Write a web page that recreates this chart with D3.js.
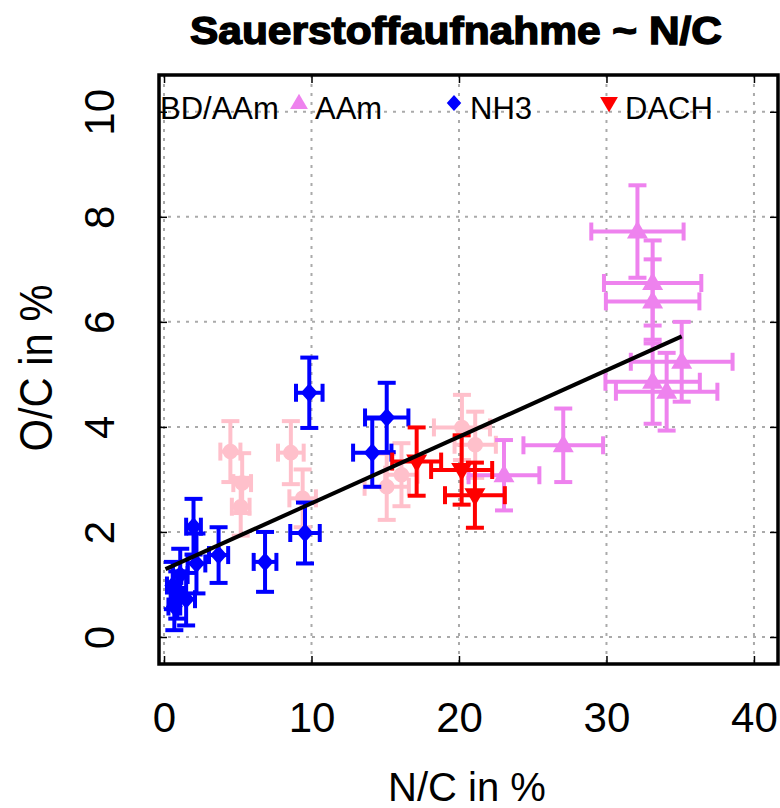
<!DOCTYPE html>
<html>
<head>
<meta charset="utf-8">
<script src="https://d3js.org/d3.v7.min.js"></script>
<style>
  body { margin: 0; background: #fff; }
  text { font-family: "Liberation Sans", Arial, sans-serif; }
</style>
</head>
<body>
<div></div>
<script>
var outerWidth  = 780;
var outerHeight = 808;

// series: N/C value, O/C value, errors
var bdNC   = [4.5, 5.3, 5.2, 8.6, 9.4, 15.1, 16.1, 20.2, 21.1];
var bdOC   = [3.53, 2.93, 2.48, 3.51, 2.64, 2.86, 3.09, 3.99, 3.66];
var bdXerr = [0.68, 0.6, 0.6, 0.87, 0.9, 1.5, 1.1, 1.9, 1.4];
var bdYerr = [0.58, 0.57, 0.55, 0.6, 0.55, 0.63, 0.6, 0.62, 0.63];

var aamNC   = [23.05, 27.07, 32.1, 33.13, 33.13, 35.1, 33.13, 34.08];
var aamOC   = [3.08, 3.65, 7.72, 6.74, 6.39, 5.24, 4.86, 4.67];
var aamXerr = [2.4, 2.7, 3.13, 3.3, 3.17, 3.45, 3.2, 3.44];
var aamYerr = [0.67, 0.7, 0.88, 0.81, 0.8, 0.76, 0.8, 0.74];

var nh3NC   = [0.7, 0.6, 0.9, 1.1, 1.5, 2.2, 2.0, 3.7, 6.85, 9.56, 9.85, 14.12, 15.1];
var nh3OC   = [0.58, 0.98, 0.8, 1.18, 0.72, 1.4, 2.1, 1.56, 1.43, 1.98, 4.65, 3.51, 4.18];
var nh3Xerr = [0.4, 0.4, 0.45, 0.5, 0.6, 0.6, 0.5, 0.65, 0.77, 1.0, 0.9, 1.3, 1.47];
var nh3Yerr = [0.45, 0.45, 0.45, 0.5, 0.5, 0.57, 0.53, 0.53, 0.57, 0.58, 0.67, 0.65, 0.66];

var dachNC   = [17.13, 20.18, 21.08];
var dachOC   = [3.34, 3.18, 2.7];
var dachXerr = [1.66, 2.07, 2.03];
var dachYerr = [0.65, 0.66, 0.62];

// fitted line O/C = a + b * N/C
var fitIntercept = 1.28;
var fitSlope = 0.1266;
var fitRange = [0.1, 35.1];

var legendLabels = ["BD/AAm", "AAm", "NH3", "DACH"];
var xTicks = [0, 10, 20, 30, 40];
var yTicks = [0, 2, 4, 6, 8, 10];

var series = [
  { color: "pink",   shape: "circle",  x: bdNC,   y: bdOC,   ex: bdXerr,   ey: bdYerr },
  { color: "violet", shape: "up",      x: aamNC,  y: aamOC,  ex: aamXerr,  ey: aamYerr },
  { color: "blue",   shape: "diamond", x: nh3NC,  y: nh3OC,  ex: nh3Xerr,  ey: nh3Yerr },
  { color: "red",    shape: "down",    x: dachNC, y: dachOC, ex: dachXerr, ey: dachYerr }
];

var plot = { left: 159, right: 778, top: 75, bottom: 664 };

var xScale = d3.scaleLinear().domain([-0.34, 41.63]).range([plot.left, plot.right]);
var yScale = d3.scaleLinear().domain([-0.514, 10.70]).range([plot.bottom, plot.top]);

var svg = d3.select("div").append("svg")
  .attr("width", outerWidth)
  .attr("height", outerHeight);

svg.append("clipPath").attr("id", "clip")
  .append("rect")
  .attr("x", plot.left).attr("y", plot.top)
  .attr("width", plot.right - plot.left)
  .attr("height", plot.bottom - plot.top);

// grid
var grid = svg.append("g")
  .attr("stroke", "#aaa")
  .attr("stroke-width", 2)
  .attr("stroke-dasharray", "3,6");
grid.selectAll(".gx").data(xTicks).enter().append("line")
  .attr("x1", function (d){ return xScale(d); })
  .attr("x2", function (d){ return xScale(d); })
  .attr("y1", plot.top).attr("y2", plot.bottom);
grid.selectAll(".gy").data(yTicks).enter().append("line")
  .attr("y1", function (d){ return yScale(d); })
  .attr("y2", function (d){ return yScale(d); })
  .attr("x1", plot.left).attr("x2", plot.right);

// axes with inward ticks on all sides
svg.append("g").attr("class", "axis xlab")
  .attr("transform", "translate(0," + plot.bottom + ")")
  .call(d3.axisBottom(xScale).tickValues(xTicks).tickSize(-8).tickFormat(d3.format("d")));
svg.append("g").attr("class", "axis noLab")
  .attr("transform", "translate(0," + plot.top + ")")
  .call(d3.axisTop(xScale).tickValues(xTicks).tickSize(-8));
svg.append("g").attr("class", "axis ylab")
  .attr("transform", "translate(" + plot.left + ",0)")
  .call(d3.axisLeft(yScale).tickValues(yTicks).tickSize(-8).tickFormat(d3.format("d")));
svg.append("g").attr("class", "axis noLab")
  .attr("transform", "translate(" + plot.right + ",0)")
  .call(d3.axisRight(yScale).tickValues(yTicks).tickSize(-8));

svg.selectAll(".axis .domain").remove();
svg.selectAll(".axis line").attr("stroke", "#000").attr("stroke-width", 1.5);
svg.selectAll(".noLab text").remove();
svg.selectAll(".axis text")
  .attr("font-size", 42)
  .attr("font-family", "Liberation Sans, Arial, sans-serif")
  .attr("fill", "#000");
svg.selectAll(".xlab .tick text")
  .attr("y", 68)
  .attr("dy", null);
svg.selectAll(".ylab .tick text")
  .attr("text-anchor", "middle")
  .attr("dy", null)
  .attr("x", null)
  .attr("y", 0)
  .attr("transform", "translate(-45,0) rotate(-90)");

// points
var marks = svg.append("g").attr("clip-path", "url(#clip)");

function shapePath(shape){
  if (shape === "circle") return d3.symbol(d3.symbolCircle, 190)();
  if (shape === "diamond") return "M0,-9.5L8.5,0L0,9.5L-8.5,0Z";
  if (shape === "up") return "M0,-11L10.5,7L-10.5,7Z";
  return "M0,11L10.5,-7L-10.5,-7Z";
}

series.forEach(function (s){
  var pts = s.x.map(function (v, i){
    return { x: v, y: s.y[i], ex: s.ex[i], ey: s.ey[i] };
  });
  var g = marks.append("g")
    .attr("stroke", s.color)
    .attr("fill", s.color)
    .attr("stroke-width", 4);
  var cap = 9;
  pts.forEach(function (d){
    var cx = xScale(d.x), cy = yScale(d.y);
    var x0 = xScale(d.x - d.ex), x1 = xScale(d.x + d.ex);
    var y0 = yScale(d.y - d.ey), y1 = yScale(d.y + d.ey);
    g.append("line").attr("x1", cx).attr("x2", cx).attr("y1", y0).attr("y2", y1);
    g.append("line").attr("x1", cx - cap).attr("x2", cx + cap).attr("y1", y0).attr("y2", y0);
    g.append("line").attr("x1", cx - cap).attr("x2", cx + cap).attr("y1", y1).attr("y2", y1);
    g.append("line").attr("x1", x0).attr("x2", x1).attr("y1", cy).attr("y2", cy);
    g.append("line").attr("x1", x0).attr("x2", x0).attr("y1", cy - cap).attr("y2", cy + cap);
    g.append("line").attr("x1", x1).attr("x2", x1).attr("y1", cy - cap).attr("y2", cy + cap);
  });
  g.selectAll("path").data(pts).enter().append("path")
    .attr("stroke", "none")
    .attr("d", shapePath(s.shape))
    .attr("transform", function (d){ return "translate(" + xScale(d.x) + "," + yScale(d.y) + ")"; });
});

// regression line
var fitLine = d3.line()
  .x(function (d){ return xScale(d); })
  .y(function (d){ return yScale(fitIntercept + fitSlope * d); });
marks.append("path")
  .datum(fitRange)
  .attr("d", fitLine)
  .attr("fill", "none")
  .attr("stroke", "#000")
  .attr("stroke-width", 4);

// legend, horizontal; first symbol falls outside the plot region and is clipped
var legend = marks.append("g");
var legendStep = 155;
var legendX0 = 144;
series.forEach(function (s, i){
  var lx = legendX0 + i * legendStep;
  legend.append("path")
    .attr("d", shapePath(s.shape))
    .attr("fill", s.color)
    .attr("transform", "translate(" + lx + ",103) scale(0.85)");
  legend.append("text")
    .attr("x", lx + 16)
    .attr("y", 119)
    .attr("font-size", 31)
    .text(legendLabels[i]);
});

// frame
svg.append("rect")
  .attr("x", plot.left).attr("y", plot.top)
  .attr("width", plot.right - plot.left)
  .attr("height", plot.bottom - plot.top)
  .attr("fill", "none")
  .attr("stroke", "#000")
  .attr("stroke-width", 3.5);

// titles
svg.append("text")
  .attr("x", 456).attr("y", 44)
  .attr("text-anchor", "middle")
  .attr("font-size", 38)
  .attr("font-weight", "bold")
  .attr("stroke", "#000").attr("stroke-width", 1.4)
  .attr("textLength", 532).attr("lengthAdjust", "spacingAndGlyphs")
  .text("Sauerstoffaufnahme ~ N/C");

svg.append("text")
  .attr("x", 467).attr("y", 801)
  .attr("text-anchor", "middle")
  .attr("font-size", 40)
  .text("N/C in %");

svg.append("text")
  .attr("transform", "translate(52,368) rotate(-90)")
  .attr("text-anchor", "middle")
  .attr("font-size", 46)
  .attr("textLength", 167).attr("lengthAdjust", "spacingAndGlyphs")
  .text("O/C in %");
</script>
</body>
</html>
